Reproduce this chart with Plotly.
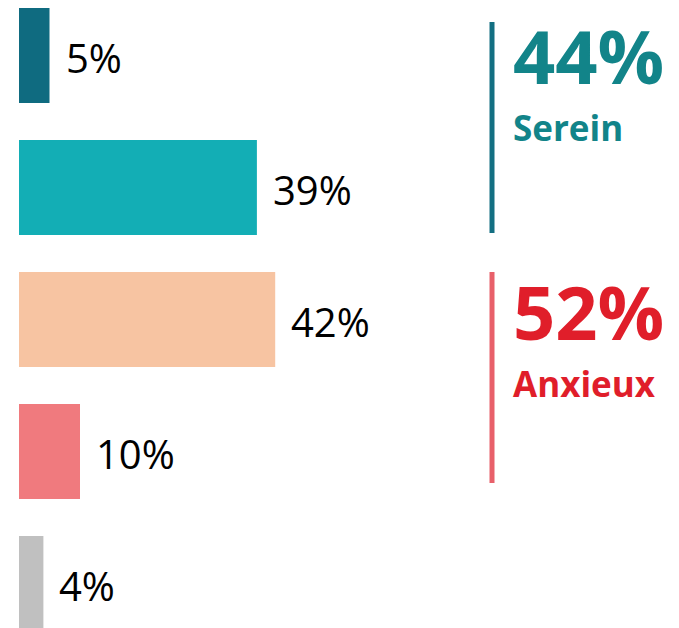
import plotly.graph_objects as go

categories = ["Très serein", "Plutôt serein", "Plutôt anxieux", "Très anxieux", "Ne sait pas"]
values = [5, 39, 42, 10, 4]
bar_colors = ["#0f6b80", "#13aeb5", "#f7c4a2", "#f07a7e", "#c0c0c0"]

group_names = ["Serein", "Anxieux"]
group_values = [44, 52]
group_text_colors = ["#128489", "#e01e2a"]
group_line_colors = ["#136f82", "#e8606a"]

W, H = 679, 628
left = 19
px_per_unit = 6.1
plot_w = W - left

fig = go.Figure()
fig.add_trace(go.Bar(
    x=values, y=categories, orientation="h",
    marker=dict(color=bar_colors, line=dict(width=0)),
    hoverinfo="skip",
))

annotations = []
for c, v in zip(categories, values):
    annotations.append(dict(
        x=v, y=c, xref="x", yref="y", text=f"{v}%", showarrow=False,
        xanchor="left", yanchor="middle", xshift=14, yshift=-2,
        font=dict(family="Open Sans", size=40, color="#000000"),
    ))

shapes = []
line_spans = [(22, 233), (272, 483)]
num_centers = [56, 311]
name_centers = [128, 383]
for i in range(2):
    y0, y1 = line_spans[i]
    shapes.append(dict(
        type="line", xref="paper", yref="paper",
        x0=(492 - left) / plot_w, x1=(492 - left) / plot_w,
        y0=1 - y0 / H, y1=1 - y1 / H,
        line=dict(color=group_line_colors[i], width=5),
    ))
    annotations.append(dict(
        x=(511 - left) / plot_w, y=1 - num_centers[i] / H, xref="paper", yref="paper",
        text=f"<b>{group_values[i]}%</b>", showarrow=False,
        xanchor="left", yanchor="middle",
        font=dict(family="Open Sans", size=74, color=group_text_colors[i]),
    ))
    annotations.append(dict(
        x=(511 - left) / plot_w, y=1 - name_centers[i] / H, xref="paper", yref="paper",
        text=f"<b>{group_names[i]}</b>", showarrow=False,
        xanchor="left", yanchor="middle",
        font=dict(family="Open Sans", size=35, color=group_text_colors[i]),
    ))

pitch = 132
first_center = 55.5
y_top = -first_center / pitch
y_bottom = y_top + H / pitch

fig.update_layout(
    width=W, height=H,
    margin=dict(l=left, r=0, t=0, b=0),
    paper_bgcolor="white", plot_bgcolor="white",
    bargap=0.28,
    showlegend=False,
    xaxis=dict(range=[0, plot_w / px_per_unit], visible=False, fixedrange=True),
    yaxis=dict(range=[y_bottom, y_top], visible=False, fixedrange=True,
               categoryorder="array", categoryarray=categories),
    annotations=annotations,
    shapes=shapes,
)

fig.write_html("out.html", config={"displayModeBar": False},
               post_script="document.body.style.margin='0';")
